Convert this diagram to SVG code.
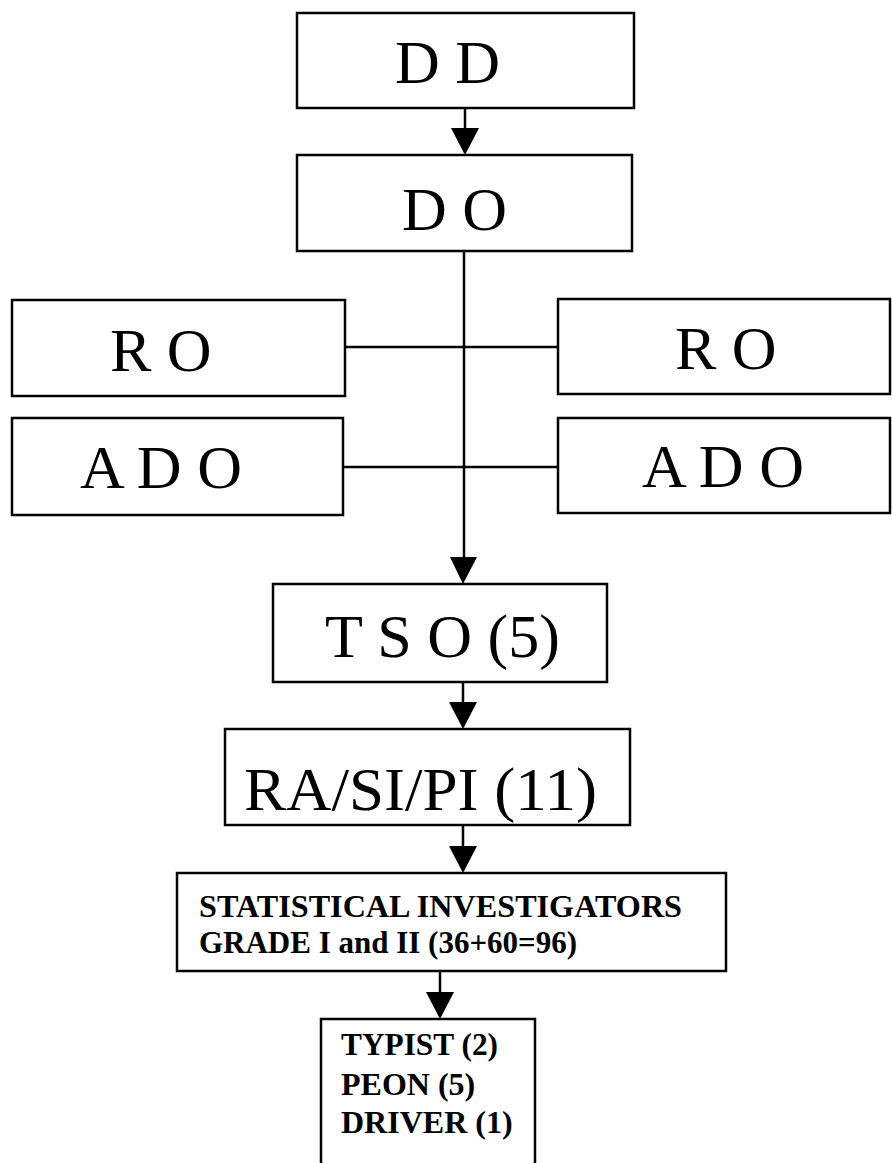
<svg xmlns="http://www.w3.org/2000/svg" width="892" height="1163" viewBox="0 0 892 1163">
  <style>
    .box { fill: #ffffff; stroke: #000000; stroke-width: 2.5; }
    .big { font-family: "Liberation Serif", "Times New Roman", serif; font-size: 62px; fill: #000000; }
    .small { font-family: "Liberation Serif", "Times New Roman", serif; font-size: 32px; font-weight: bold; fill: #000000; }
    .line { stroke: #000000; stroke-width: 2.5; fill: none; }
    .head { fill: #000000; stroke: none; }
  </style>
  <rect x="0" y="0" width="892" height="1163" fill="#ffffff"/>

  <g id="connectors">
    <line class="line" x1="465" y1="108" x2="465" y2="130"/>
    <polygon class="head" points="451,128 479,128 465,155"/>
    <line class="line" x1="464" y1="251" x2="464" y2="560"/>
    <polygon class="head" points="450,557 477,557 463,584"/>
    <line class="line" x1="345" y1="347" x2="558" y2="347"/>
    <line class="line" x1="343" y1="467" x2="558" y2="467"/>
    <line class="line" x1="463" y1="682" x2="463" y2="705"/>
    <polygon class="head" points="449,702 477,702 463,729"/>
    <line class="line" x1="463" y1="825" x2="463" y2="848"/>
    <polygon class="head" points="449,846 477,846 463,873"/>
    <line class="line" x1="440" y1="971" x2="440" y2="994"/>
    <polygon class="head" points="426,992 454,992 440,1019"/>
  </g>

  <g id="node-dd">
    <rect class="box" x="297" y="13" width="337" height="95"/>
    <text class="big" x="395" y="83" font-size="60">D D</text>
  </g>
  <g id="node-do">
    <rect class="box" x="297" y="155" width="335" height="96"/>
    <text class="big" x="402" y="230" font-size="60">D O</text>
  </g>
  <g id="node-ro-left">
    <rect class="box" x="12" y="300" width="333" height="96"/>
    <text class="big" x="110" y="371">R O</text>
  </g>
  <g id="node-ado-left">
    <rect class="box" x="12" y="418" width="331" height="97"/>
    <text class="big" x="80" y="488">A D O</text>
  </g>
  <g id="node-ro-right">
    <rect class="box" x="558" y="299" width="332" height="95"/>
    <text class="big" x="675" y="369">R O</text>
  </g>
  <g id="node-ado-right">
    <rect class="box" x="558" y="418" width="332" height="95"/>
    <text class="big" x="642" y="487">A D O</text>
  </g>
  <g id="node-tso">
    <rect class="box" x="273" y="584" width="334" height="98"/>
    <text class="big" x="325" y="657" font-size="63">T S O (5)</text>
  </g>
  <g id="node-ra">
    <rect class="box" x="225" y="729" width="405" height="96"/>
    <text class="big" x="244" y="810" font-size="64" textLength="353" lengthAdjust="spacingAndGlyphs">RA/SI/PI (11)</text>
  </g>
  <g id="node-si">
    <rect class="box" x="177" y="873" width="549" height="98"/>
    <text class="small" x="199" y="917" textLength="483" lengthAdjust="spacingAndGlyphs">STATISTICAL INVESTIGATORS</text>
    <text class="small" x="199" y="953" textLength="378" lengthAdjust="spacingAndGlyphs">GRADE I and II (36+60=96)</text>
  </g>
  <g id="node-staff">
    <rect class="box" x="321" y="1019" width="214" height="160"/>
    <text class="small" x="341" y="1055" textLength="157" lengthAdjust="spacingAndGlyphs">TYPIST (2)</text>
    <text class="small" x="341" y="1095">PEON (5)</text>
    <text class="small" x="341" y="1133">DRIVER (1)</text>
  </g>
</svg>
